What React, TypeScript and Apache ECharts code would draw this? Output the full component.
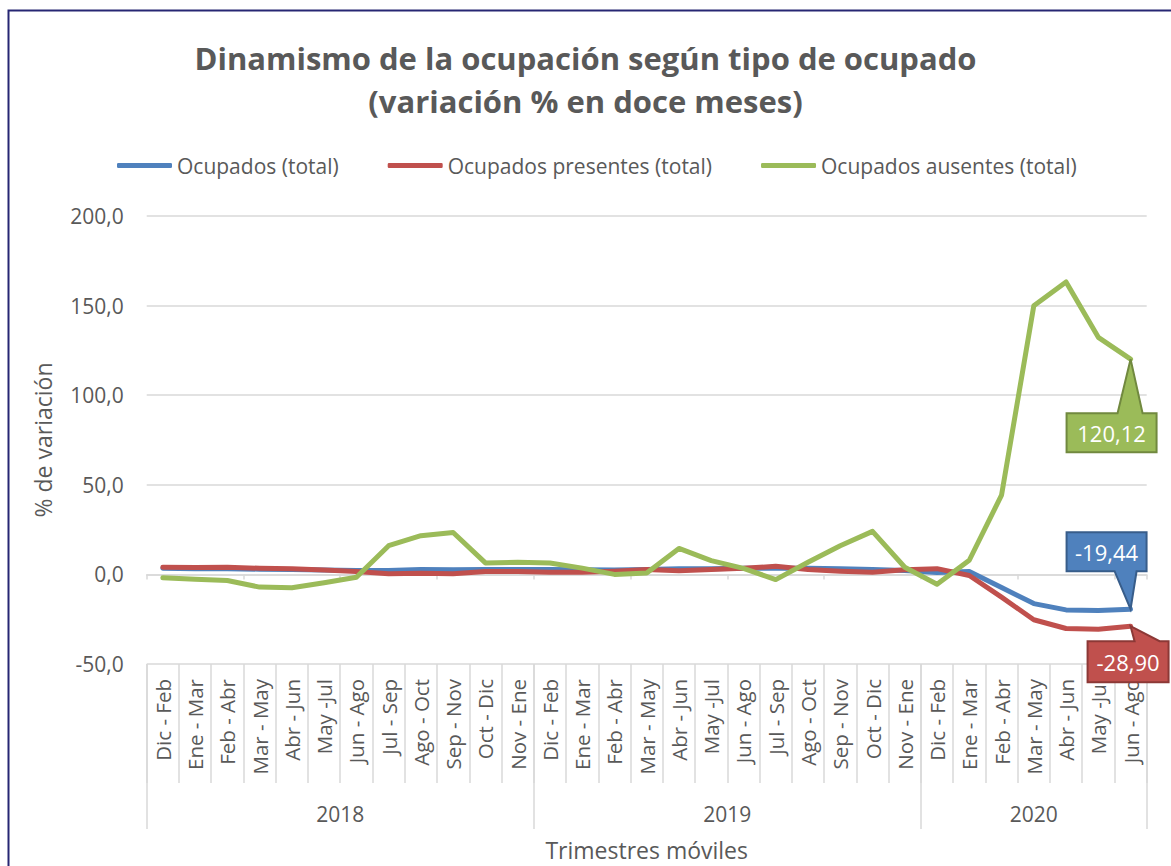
import React, { useEffect, useRef } from "react";
import * as echarts from "echarts";

const months12 = [
  "Dic - Feb", "Ene - Mar", "Feb - Abr", "Mar - May", "Abr - Jun", "May -Jul",
  "Jun - Ago", "Jul - Sep", "Ago - Oct", "Sep - Nov", "Oct - Dic", "Nov - Ene",
];
const years = ["2018", "2019", "2020"];
const yearCounts = [12, 12, 7];
const categories: string[] = [
  ...months12,
  ...months12,
  ...months12.slice(0, 7),
];

const ocupadosTotal = [
  3.4, 3.2, 3.2, 2.9, 2.8, 2.5, 2.2, 2.2, 2.8, 2.6, 2.8, 2.8, 2.8, 2.6, 2.5,
  2.7, 3.1, 3.1, 3.4, 3.4, 3.4, 3.1, 2.7, 2.2, 1.0, 1.6, -7.3, -16.3, -19.8, -20.2, -19.44,
];
const ocupadosPresentes = [
  4.0, 3.8, 4.0, 3.4, 3.1, 2.5, 1.6, 0.3, 0.7, 0.3, 1.6, 1.6, 1.2, 1.2, 1.8,
  2.7, 2.1, 2.7, 3.4, 4.5, 2.7, 1.8, 1.2, 2.6, 3.2, -0.6, -12.7, -25.3, -30.2, -30.6, -28.9,
];
const ocupadosAusentes = [
  -1.9, -2.7, -3.4, -7.1, -7.5, -4.7, -1.6, 16.0, 21.6, 23.4, 6.4, 6.8, 6.4, 3.5, 0.0,
  0.8, 14.5, 7.7, 3.4, -2.9, 6.8, 16.0, 24.0, 4.0, -5.5, 7.9, 44.2, 149.9, 163.2, 132.3, 120.12,
];
const yTicks = { min: -50, max: 200, interval: 50 };

const FONT = "Open Sans";
const GREY = "#595959";

const fmt = (v: number, d: number) => v.toFixed(d).replace(".", ",");

export default function App() {
  const ref = useRef<HTMLDivElement>(null);
  useEffect(() => {
    document.body.style.margin = "0";
    const chart = echarts.init(ref.current!, null, { renderer: "svg" });

    const boundaries: number[] = [0];
    const centers: number[] = [];
    let acc = 0;
    yearCounts.forEach((c) => {
      centers.push(acc + c / 2);
      acc += c;
      boundaries.push(acc);
    });

    const series = [
      { name: "Ocupados (total)", data: ocupadosTotal, color: "#4F81BD" },
      { name: "Ocupados presentes (total)", data: ocupadosPresentes, color: "#C0504D" },
      { name: "Ocupados ausentes (total)", data: ocupadosAusentes, color: "#9BBB59" },
    ];

    chart.setOption({
      animation: false,
      backgroundColor: "#fff",
      textStyle: { fontFamily: FONT },
      title: {
        text: "Dinamismo de la ocupación según tipo de ocupado\n(variación % en doce meses)",
        left: "center",
        top: 31,
        textStyle: { fontFamily: FONT, fontSize: 31, fontWeight: "bold", color: GREY, lineHeight: 43 },
      },
      legend: {
        top: 150,
        left: 112,
        itemWidth: 55,
        itemHeight: 5,
        itemGap: 49,
        icon: "roundRect",
        textStyle: { fontFamily: FONT, fontSize: 21, color: GREY },
        data: series.map((s) => s.name),
      },
      grid: { left: 146.7, right: 24.3, top: 216, bottom: 201, containLabel: false },
      xAxis: [
        {
          type: "category",
          data: categories,
          boundaryGap: true,
          axisLine: { onZero: true, lineStyle: { color: "#D9D9D9", width: 1.5 } },
          axisTick: { show: true, length: 5, lineStyle: { color: "#D9D9D9", width: 1.5 } },
          axisLabel: { show: false },
          splitLine: { show: false },
        },
        {
          type: "category",
          data: categories,
          position: "bottom",
          boundaryGap: true,
          axisLine: { show: false, onZero: false },
          axisTick: { show: true, length: 119, lineStyle: { color: "#D9D9D9", width: 1.5 } },
          axisLabel: { rotate: 90, margin: 15, fontSize: 20.5, color: GREY, fontFamily: FONT, interval: 0 },
          splitLine: { show: false },
        },
        {
          type: "value",
          min: 0,
          max: categories.length,
          position: "bottom",
          axisLine: { show: false, onZero: false },
          axisTick: { show: true, length: 165, customValues: boundaries, lineStyle: { color: "#D9D9D9", width: 1.5 } },
          axisLabel: {
            customValues: centers,
            margin: 139,
            fontSize: 21,
            color: GREY,
            fontFamily: FONT,
            formatter: (v: number) => years[centers.findIndex((c) => Math.abs(c - v) < 0.01)] ?? "",
          },
          splitLine: { show: false },
          name: "Trimestres móviles",
          nameLocation: "middle",
          nameGap: 174,
          nameTextStyle: { fontSize: 23, color: GREY, fontFamily: FONT },
        },
      ],
      yAxis: {
        type: "value",
        min: yTicks.min,
        max: yTicks.max,
        interval: yTicks.interval,
        axisLine: { show: false },
        axisTick: { show: false },
        splitLine: { lineStyle: { color: "#D9D9D9", width: 1.5 } },
        axisLabel: { fontSize: 21, color: GREY, fontFamily: FONT, margin: 23, formatter: (v: number) => fmt(v, 1) },
        name: "% de variación",
        nameLocation: "middle",
        nameGap: 92,
        nameTextStyle: { fontSize: 23, color: GREY, fontFamily: FONT },
      },
      series: series.map((s) => ({
        name: s.name,
        type: "line",
        xAxisIndex: 0,
        data: s.data,
        showSymbol: false,
        symbol: "none",
        color: s.color,
        lineStyle: { width: 5, color: s.color, cap: "round", join: "round" },
      })),
      graphic: [
        {
          id: "border",
          type: "rect",
          shape: { x: 8.5, y: 10.5, width: 1300, height: 1000 },
          style: { fill: "none", stroke: "#262673", lineWidth: 2 },
          silent: true,
        },
      ],
    });

    const last = categories.length - 1;
    const callouts = [
      {
        value: ocupadosAusentes[last], fill: "#9BBB59", stroke: "#71893F",
        pts: [[-64, 54], [-13, 54], [0, 0], [12, 54], [26, 54], [26, 93], [-64, 93]],
        tc: [-19, 73.5],
      },
      {
        value: ocupadosTotal[last], fill: "#4F81BD", stroke: "#385D8A",
        pts: [[-64, -77], [16, -77], [16, -38], [6, -38], [0, 0], [-16, -38], [-64, -38]],
        tc: [-24, -57.5],
      },
      {
        value: ocupadosPresentes[last], fill: "#C0504D", stroke: "#8C3836",
        pts: [[-43, 15], [4, 15], [0, 0], [29, 15], [38, 15], [38, 56], [-43, 56]],
        tc: [-2.5, 35.5],
      },
    ];
    const g: any[] = [];
    callouts.forEach((c, i) => {
      const p = chart.convertToPixel({ xAxisIndex: 0, yAxisIndex: 0 }, [last, c.value]) as number[];
      g.push({
        id: "co" + i,
        type: "polygon",
        shape: { points: c.pts.map(([dx, dy]) => [p[0] + dx, p[1] + dy]) },
        style: { fill: c.fill, stroke: c.stroke, lineWidth: 2 },
        z: 100,
      });
      g.push({
        id: "ct" + i,
        type: "text",
        x: p[0] + c.tc[0],
        y: p[1] + c.tc[1],
        style: {
          text: fmt(c.value, 2),
          fill: "#fff",
          fontSize: 22,
          fontFamily: FONT,
          align: "center",
          verticalAlign: "middle",
        },
        z: 101,
      });
    });
    chart.setOption({ graphic: g });

    return () => chart.dispose();
  }, []);
  return <div ref={ref} style={{ width: 1171, height: 866 }} />;
}
